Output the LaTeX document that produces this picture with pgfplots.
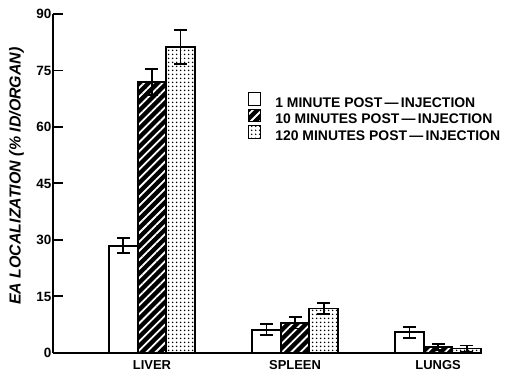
\documentclass[border=0pt]{standalone}
\usepackage{pgfplots}
\pgfplotsset{compat=1.18}
\usepackage{fontspec}
\setmainfont{Liberation Sans}
\usetikzlibrary{patterns,patterns.meta}
\begin{document}
\begin{tikzpicture}
\begin{axis}[
  name=ax,
  scale only axis,
  width=428bp, height=339bp,
  xmin=-0.692, xmax=2.30,
  ymin=0, ymax=90,
  ytick={0,15,30,45,60,75,90},
  xtick={0,1,2},
  xticklabels={LIVER,SPLEEN,LUNGS},
  axis x line=bottom, axis y line=left,
  axis line style={line width=2.2pt,-},
  major tick length=10bp,
  ytick style={line width=2pt, black},
  xtick style={draw=none},
  tick align=inside,
  /pgf/number format/assume math mode=true,
  yticklabel style={font=\fontsize{13.5}{15}\selectfont\bfseries, inner sep=1.5bp},
  xticklabel style={font=\fontsize{13}{15}\selectfont\bfseries, yshift=6bp},
  ylabel={\fontsize{16}{18}\selectfont\bfseries\itshape EA LOCALIZATION (\% ID/ORGAN)},
  ylabel style={at={(axis description cs:-0.0853,0.522)}, anchor=center},
  ybar=0pt, bar width=0.2,
  legend style={draw=none, fill=none, at={(axis description cs:0.456,0.77)}, anchor=north west,
    font=\fontsize{14}{16}\selectfont\bfseries, inner sep=0pt, row sep=-1.5bp,
    nodes={inner sep=0pt, text height=10bp, text depth=3bp},
    /tikz/every odd column/.append style={column sep=14bp},
    legend cell align=left},
  legend image code/.code={\draw[#1,line width=1pt] (0bp,-1.5bp) rectangle (12bp,11bp);},
  error bars/y dir=both, error bars/y explicit,
  error bars/error bar style={line width=1.8pt, black},
  error bars/error mark options={rotate=90, mark size=6.5bp, line width=1.8pt, black},
  clip=false,
]
\addplot[draw=black, line width=1.8pt, fill=white] coordinates {
  (0,28.5) +- (0,2)
  (1,6.2) +- (0,1.5)
  (2,5.5) +- (0,1.5)
};
\addlegendentry{1 MINUTE POST\,—\,INJECTION}
\addplot[draw=black, line width=1.8pt, fill=black,
  postaction={pattern={Lines[angle=45,distance=6.4bp,line width=1.8bp]}, pattern color=white}] coordinates {
  (0,72) +- (0,3.5)
  (1,8.0) +- (0,1.5)
  (2,1.5) +- (0,0.8)
};
\addlegendentry{10 MINUTES POST\,—\,INJECTION}
\addplot[draw=black, line width=1.8pt, fill=white,
  postaction={pattern={Dots[distance=3.6bp,radius=0.9bp]}, pattern color=black}] coordinates {
  (0,81.2) +- (0,4.5)
  (1,11.8) +- (0,1.5)
  (2,1.2) +- (0,0.8)
};
\addlegendentry{120 MINUTES POST\,—\,INJECTION}
\end{axis}
\pgfresetboundingbox
\path[use as bounding box] ([xshift=-53bp,yshift=-19bp]ax.south west) rectangle ([xshift=25bp,yshift=14bp]ax.north east);
\end{tikzpicture}
\end{document}
